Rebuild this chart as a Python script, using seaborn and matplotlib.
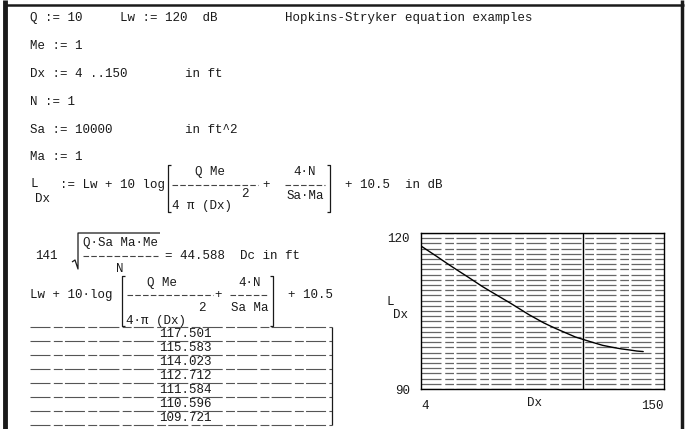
import numpy as np
import pandas as pd
import matplotlib
matplotlib.use("Agg")
import matplotlib.pyplot as plt
import matplotlib.transforms as mtransforms
import seaborn as sns
from matplotlib.lines import Line2D

# ---- data ----
dx_values = [4, 5, 6, 7, 8, 9, 10, 12, 15, 20, 25, 30, 40, 50, 60, 70, 80, 90, 100, 110]
l_values = [117.5, 115.6, 114.0, 112.7, 111.6, 110.6, 109.7, 108.3, 106.6, 104.3,
            102.7, 101.6, 100.0, 99.1, 98.4, 98.0, 97.7, 97.5, 97.3, 97.2]
table_values = ["117.501", "115.583", "114.023", "112.712", "111.584", "110.596", "109.721"]
critical_distance = 44.588
y_ticks = [90, 120]
y_tick_labels = ["90", "120"]
x_ticks = [4, 150]
x_tick_labels = ["4", "150"]

W, H = 686, 429
sns.set_theme(style="white")
plt.rcParams['font.family'] = ['Liberation Mono', 'DejaVu Sans Mono']
INK = '#1a1a1a'
fig = plt.figure(figsize=(W / 100, H / 100), dpi=100)
fig.patch.set_facecolor('white')


def fx(x):
    return x / W


def fy(y):
    return 1 - y / H


def txt(x, y, s, ha='left', size=9):
    fig.text(fx(x), fy(y), s, ha=ha, va='center', fontsize=size, color=INK)


def line(xs, ys, lw=1.0, color=INK, ls='-'):
    fig.add_artist(Line2D([fx(x) for x in xs], [fy(y) for y in ys], lw=lw,
                          color=color, ls=ls, solid_capstyle='butt'))


def lbracket(x, y0, y1):
    line([x + 3, x, x, x + 3], [y0, y0, y1, y1], lw=0.9)


def rbracket(x, y0, y1):
    line([x - 3, x, x, x - 3], [y0, y0, y1, y1], lw=0.9)


def frac(x0, x1, y):
    line([x0, x1], [y, y], lw=0.8, color='#444', ls=(0, (5, 2)))


# ---- page frame ----
line([5, 5], [0, H], lw=3.5)
line([4, 684], [5, 5], lw=1.8)
line([682, 682], [0, H], lw=2.5)

# ---- definitions ----
txt(30, 18, "Q := 10")
txt(120, 18, "Lw := 120  dB")
txt(285, 18, "Hopkins-Stryker equation examples")
txt(30, 46, "Me := 1")
txt(30, 74, "Dx := 4 ..150")
txt(185, 74, "in ft")
txt(30, 102, "N := 1")
txt(30, 130, "Sa := 10000")
txt(185, 130, "in ft^2")
txt(30, 157, "Ma := 1")

# L_Dx definition
txt(30, 184, "L")
txt(35, 199, "Dx")
txt(60, 185, ":= Lw + 10 log")
lbracket(168, 165, 212)
txt(210, 172, "Q Me", ha='center')
frac(172, 258, 185)
txt(245, 194, "2", ha='center')
txt(172, 206, "4 \u03c0 (Dx)")
txt(266, 185, "+", ha='center')
txt(305, 172, "4\u00b7N", ha='center')
frac(285, 325, 185)
txt(305, 196, "Sa\u00b7Ma", ha='center')
rbracket(330, 165, 212)
txt(345, 185, "+ 10.5  in dB")

# critical distance
txt(35, 256, "141")
line([72, 75, 78, 78, 160], [262, 260, 269, 233, 233], lw=0.9)
txt(83, 243, "Q\u00b7Sa Ma\u00b7Me")
frac(83, 158, 256)
txt(120, 269, "N", ha='center')
txt(165, 256, "= 44.588  Dc in ft")

# evaluated expression
txt(30, 295, "Lw + 10\u00b7log")
lbracket(122, 276, 326)
txt(162, 283, "Q Me", ha='center')
frac(127, 213, 295)
txt(202, 308, "2", ha='center')
txt(218, 295, "+", ha='center')
txt(250, 283, "4\u00b7N", ha='center')
frac(230, 268, 295)
txt(250, 308, "Sa Ma", ha='center')
rbracket(273, 276, 326)
txt(288, 295, "+ 10.5")
txt(126, 321, "4\u00b7\u03c0 (Dx)")

# result table
row_top = 327
row_h = 14
line([30, 332], [row_top, row_top], lw=0.8, color='#555', ls=(0, (18, 3, 8, 2)))
for i, v in enumerate(table_values):
    yc = row_top + 7 + i * row_h
    txt(185, yc, v, ha='center')
    line([30, 332], [yc + 7, yc + 7], lw=0.8, color='#555', ls=(0, (18, 3, 8, 2)))
line([332, 332], [row_top, row_top + 7 * row_h], lw=0.9)

# ---- graph ----
ax = fig.add_axes([fx(421), fy(389), (664 - 421) / W, (389 - 233) / H])
df = pd.DataFrame({"Dx": dx_values, "L": l_values})
sns.lineplot(data=df, x="Dx", y="L", ax=ax, color='black', lw=1.0)
ax.set_xscale('log')
ax.set_xlim(4, 150)
ax.set_ylim(90, 120)
ax.set_yticks(list(range(90, 121)), minor=True)
ax.grid(which='minor', axis='y', color='#666', lw=0.9, ls=(0, (16, 3, 7, 2)))
ax.grid(which='major', axis='y', color='#666', lw=0.9, ls=(0, (16, 3, 7, 2)))
ax.grid(axis='x', visible=False, which='both')
ax.axvline(critical_distance, color='black', lw=1.0)
ax.set_xticks(x_ticks)
ax.set_xticklabels(x_tick_labels)
ax.xaxis.set_minor_locator(matplotlib.ticker.NullLocator())
ax.set_yticks(y_ticks)
ax.set_yticklabels(y_tick_labels)
ax.tick_params(axis='both', which='both', length=0, labelsize=9, colors=INK, pad=8)
ax.tick_params(axis='y', which='minor', labelleft=False)
xl = ax.get_xticklabels()
xl[0].set_ha('left')
xl[1].set_ha('right')
yl = ax.get_yticklabels()
yl[1].set_transform(yl[1].get_transform() +
                    mtransforms.ScaledTranslation(0, -5 / 100, fig.dpi_scale_trans))
ax.set_xlabel("")
ax.set_ylabel("")
for s in ax.spines.values():
    s.set_color('black')
    s.set_linewidth(1.0)
    s.set_visible(True)
txt(390, 302, "L", ha='center')
txt(400, 315, "Dx", ha='center')
txt(534, 403, "Dx", ha='center')

fig.savefig("out.png", dpi=100, facecolor='white')
